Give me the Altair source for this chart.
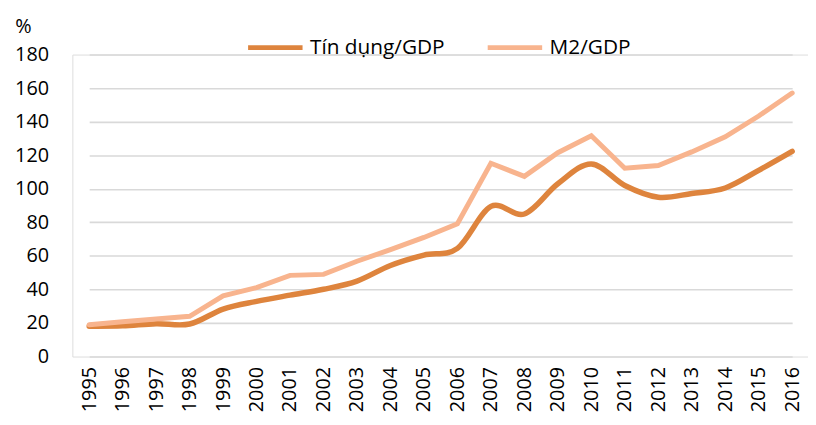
import altair as alt
import pandas as pd

years = [str(y) for y in range(1995, 2017)]
credit_gdp = [18.1, 18.3, 19.6, 19.4, 28.3, 32.9, 36.6, 40.1, 45.0, 54.3, 60.5, 64.5,
              89.5, 85.0, 103.0, 114.8, 102.0, 95.0, 97.2, 100.5, 111.0, 122.3]
m2_gdp = [19.0, 20.8, 22.4, 24.0, 36.2, 41.1, 48.4, 49.0, 56.8, 63.7, 71.0, 79.2,
          115.2, 107.4, 121.5, 131.6, 112.3, 113.9, 122.0, 131.0, 143.4, 157.1]
series_names = ["Tín dụng/GDP", "M2/GDP"]
series_colors = ["#DE843D", "#F8B48E"]

df = pd.DataFrame({
    "year": years * 2,
    "value": credit_gdp + m2_gdp,
    "series": [series_names[0]] * len(years) + [series_names[1]] * len(years),
})

FONT = "Open Sans"

x_enc = alt.X(
    "year:O",
    scale=alt.Scale(type="point", range=[17, 727], padding=0),
    axis=alt.Axis(
        title=None, labelAngle=270, labelAlign="right", labelBaseline="middle",
        labelFontSize=20, labelColor="#000000", labelPadding=10,
        ticks=False, domain=False, grid=False, labelFont=FONT,
    ),
)
y_enc = alt.Y(
    "value:Q",
    scale=alt.Scale(domain=[0, 180], nice=False),
    axis=alt.Axis(
        values=list(range(0, 181, 20)), title="%", titleAngle=0,
        titleAlign="center", titleBaseline="middle", titleX=-50, titleY=-28,
        titleFontSize=20, titleFontWeight="normal", titleColor="#000000",
        titleFont=FONT, labelFont=FONT,
        labelFontSize=20, labelColor="#000000", labelPadding=24,
        ticks=False, domain=False, grid=True, gridColor="#D9D9D9", gridWidth=1.6,
    ),
)
color_enc = alt.Color(
    "series:N",
    scale=alt.Scale(domain=series_names, range=series_colors),
    legend=alt.Legend(
        title=None, orient="none", direction="horizontal", legendX=175, legendY=-37,
        symbolType="stroke", symbolSize=3025, symbolStrokeWidth=5,
        labelFontSize=21, labelFont=FONT, labelColor="#000000", labelOffset=5,
        columnPadding=32,
    ),
)

base = alt.Chart(df).encode(x=x_enc, y=y_enc, color=color_enc)

credit_line = base.transform_filter(
    alt.datum.series == series_names[0]
).mark_line(interpolate="cardinal", strokeWidth=5.5, strokeCap="round")

m2_line = base.transform_filter(
    alt.datum.series == series_names[1]
).mark_line(interpolate="linear", strokeWidth=5, strokeCap="round", strokeJoin="miter")

chart = alt.layer(credit_line, m2_line).properties(
    width=743, height=305,
    autosize=alt.AutoSizeParams(type="none"),
    padding={"left": 65, "top": 45, "right": 0, "bottom": 59},
).configure_view(stroke=None).configure(font=FONT)

chart.save("out.html", embed_options={"renderer": "svg", "actions": False})
